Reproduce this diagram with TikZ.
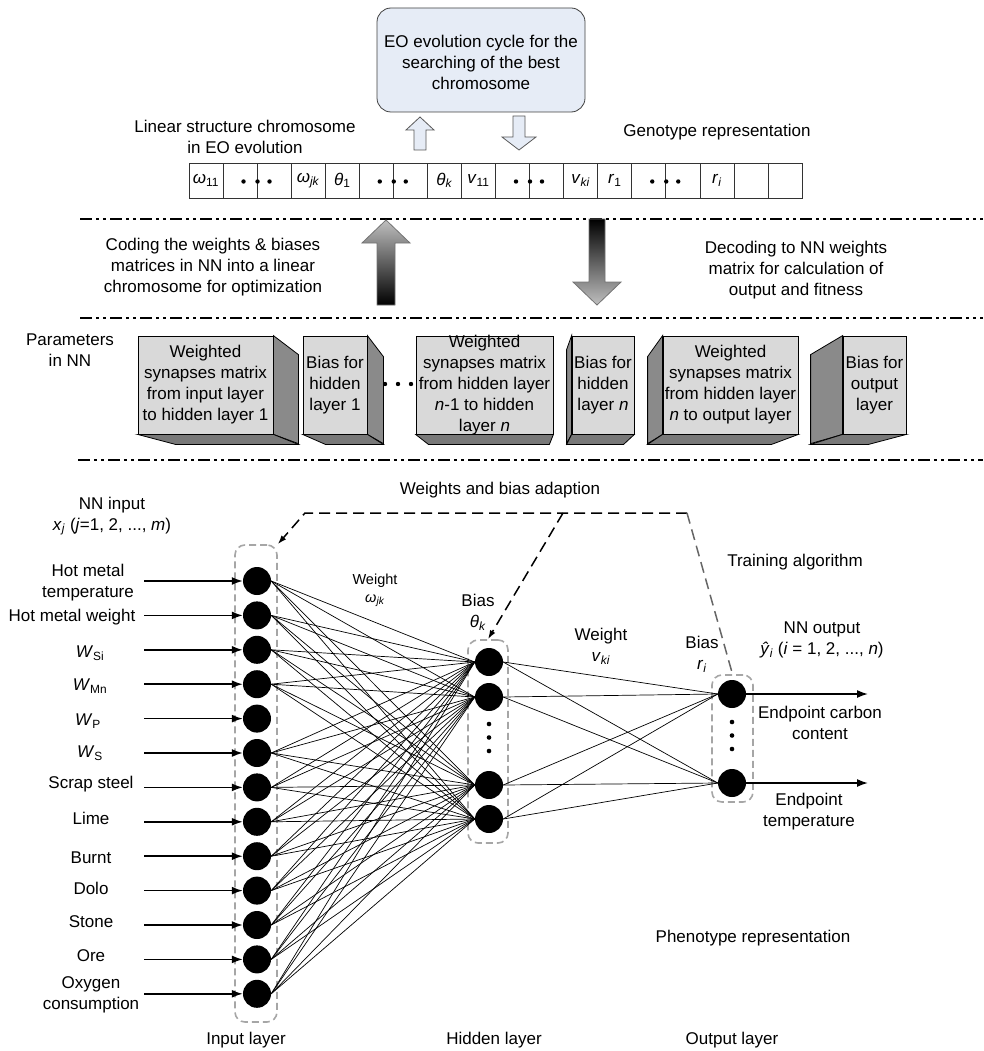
\documentclass[tikz,border=0pt]{standalone}
\usepackage{fontspec}
\setmainfont{Liberation Sans}
\usetikzlibrary{arrows.meta,calc}
\definecolor{eofill}{HTML}{E6ECF6}
\definecolor{frontc}{HTML}{D9D9D9}
\definecolor{sidec}{HTML}{8A8A8A}
\definecolor{botc}{HTML}{787878}
\definecolor{dashgray}{HTML}{A6A6A6}
\begin{document}
\begin{tikzpicture}[x=1pt,y=-1pt,
  txt/.style={font=\fontsize{17}{21}\selectfont, align=center, inner sep=0},
  stxt/.style={font=\fontsize{14.5}{18}\selectfont, align=center, inner sep=0},
  eobox/.style={draw=black!75, fill=eofill, rounded corners=14, line width=0.8, inner sep=0},
  harrow/.style={draw=black!65, fill=eofill, line width=0.8},
  cellbox/.style={draw=black!80, line width=0.8, minimum width=34.06, minimum height=35, inner sep=0},
  sepline/.style={line width=2, dash pattern=on 12pt off 4pt on 3pt off 4pt on 3pt off 4pt},
  pfront/.style={draw=black, fill=frontc, line width=0.8, minimum height=98, inner sep=0},
  pside/.style={draw=black, fill=sidec, line width=0.8},
  pbot/.style={draw=black, fill=botc, line width=0.8},
  neuron/.style={circle, fill=black, minimum size=28, inner sep=0},
  layerbox/.style={draw=dashgray, dashed, dash pattern=on 7pt off 4pt, line width=1.6, rounded corners=10, inner sep=0},
  inarrow/.style={line width=1.6, -{Latex[length=11pt,width=8pt]}},
  conn/.style={line width=0.7},
  adapt/.style={line width=1.5, dash pattern=on 11pt off 6pt},
]
\useasboundingbox (0,0) rectangle (983,1051);

% ---------- top: EO box ----------
\node[eobox, minimum width=208, minimum height=104] (eo) at (481,60) {};
\node[txt] at (481,62) {EO evolution cycle for the\\searching of the best\\chromosome};
\draw[harrow] (414,150) -- (414,130) -- (406,130) -- (420,117) -- (434,130) -- (426,130) -- (426,150) -- cycle;
\draw[harrow] (513,116) -- (525,116) -- (525,137) -- (536,137) -- (519,150) -- (502,137) -- (513,137) -- cycle;

\node[txt] (lsc) at (245,137) {Linear structure chromosome\\in EO evolution};
\node[txt] (geno) at (717,132) {Genotype representation};

% ---------- chromosome cells ----------
\foreach \i in {0,...,17} {
  \node[cellbox] (c\i) at ({189+34.06*\i+17.03},180.5) {};
}
\node[txt] at (c0) {\textit{ω}\textsubscript{11}};
\node[txt] at (c3) {\textit{ω}\textsubscript{\textit{jk}}};
\node[txt] at (c4) {\textit{θ}\textsubscript{1}};
\node[txt] at (c7) {\textit{θ}\textsubscript{\textit{k}}};
\node[txt] at (c8) {\textit{v}\textsubscript{11}};
\node[txt] at (c11) {\textit{v}\textsubscript{\textit{ki}}};
\node[txt] at (c12) {\textit{r}\textsubscript{1}};
\node[txt] at (c15) {\textit{r}\textsubscript{\textit{i}}};
\foreach \c in {1,5,9,13} {
  \fill ($(c\c.east)+(-14,1)$) circle[radius=2.2pt];
  \fill ($(c\c.east)+(0,1)$) circle[radius=2.2pt];
  \fill ($(c\c.east)+(12,1)$) circle[radius=2.2pt];
}

% ---------- separator lines ----------
\coordinate (s1a) at (80,219); \coordinate (s1b) at (983,219);
\coordinate (s2a) at (80,318); \coordinate (s2b) at (983,318);
\coordinate (s3a) at (78,460); \coordinate (s3b) at (983,460);
\draw[sepline] (s1a) -- (s1b);
\draw[sepline] (s2a) -- (s2b);
\draw[sepline] (s3a) -- (s3b);

% ---------- gradient arrows ----------
\shadedraw[top color=black!25, bottom color=black, draw=black!55, line width=0.8]
  (377,305) -- (377,243) -- (362,243) -- (386,220) -- (410,243) -- (395,243) -- (395,305) -- cycle;
\shadedraw[top color=black, bottom color=black!25, draw=black!55, line width=0.8]
  (589,219) -- (605,219) -- (605,282) -- (621,282) -- (597,305) -- (573,282) -- (589,282) -- cycle;
\node[txt] (coding) at (213,267) {Coding the weights \& biases\\matrices in NN into a linear\\chromosome for optimization};
\node[txt] (decoding) at (796,270) {Decoding to NN weights\\matrix for calculation of\\output and fitness};

% ---------- parameter boxes ----------
\node[txt] (pin) at (70,350) {Parameters\\in NN};

\node[pfront, minimum width=135] (p1) at (205.5,385) {};
\filldraw[pside] (p1.north east) -- ++(25,19) -- ++(0,89) -- (p1.south east) -- cycle;
\filldraw[pbot] (p1.south west) -- (p1.south east) -- ++(25,10) -- ++(-123,0) -- cycle;
\node[txt] at (p1) {Weighted\\synapses matrix\\from input layer\\to hidden layer 1};

\node[pfront, minimum width=64] (p2) at (335,385) {};
\filldraw[pside] (p2.north east) -- ++(16,21) -- ++(0,87) -- (p2.south east) -- cycle;
\filldraw[pbot] (p2.south west) -- (p2.south east) -- ++(16,10) -- ++(-58,0) -- cycle;
\node[txt] at (p2) {Bias for\\hidden\\layer 1};

\fill (385,384) circle[radius=2.2pt];
\fill (398,384) circle[radius=2.2pt];
\fill (411,384) circle[radius=2.2pt];

\node[pfront, minimum width=137] (p3) at (484.5,385) {};
\filldraw[pbot] (p3.south west) -- (p3.south east) -- ++(-4,10) -- ++(-121,0) -- cycle;
\node[txt] at (p3) {Weighted\\synapses matrix\\from hidden layer\\\textit{n}-1 to hidden\\layer \textit{n}};

\node[pfront, minimum width=62] (p4) at (603,385) {};
\filldraw[pside] (p4.north west) -- ++(-5,14) -- ++(0,94) -- (p4.south west) -- cycle;
\filldraw[pbot] (p4.south west) -- ++(-5,10) -- ++(57,0) -- (p4.south east) -- cycle;
\node[txt] at (p4) {Bias for\\hidden\\layer \textit{n}};

\node[pfront, minimum width=135] (p5) at (730.5,385) {};
\filldraw[pside] (p5.north west) -- ++(-15,21) -- ++(0,87) -- (p5.south west) -- cycle;
\filldraw[pbot] (p5.south west) -- ++(-15,10) -- ++(124,0) -- (p5.south east) -- cycle;
\node[txt] at (p5) {Weighted\\synapses matrix\\from hidden layer\\\textit{n} to output layer};

\node[pfront, minimum width=63] (p6) at (874.5,385) {};
\filldraw[pside] (p6.north west) -- ++(-32,19) -- ++(0,89) -- (p6.south west) -- cycle;
\filldraw[pbot] (p6.south west) -- ++(-32,10) -- ++(58,0) -- (p6.south east) -- cycle;
\node[txt] at (p6) {Bias for\\output\\layer};

% ---------- network ----------
\node[txt] (wba) at (500,490) {Weights and bias adaption};
\node[txt] (nnin) at (112,516) {NN input\\\textit{x}\textsubscript{\textit{j}} (\textit{j}=1, 2, ..., \textit{m})};
\node[txt] (train) at (795,562) {Training algorithm};

% layer boxes
\node[layerbox, minimum width=42, minimum height=477] (inbox) at (256,783.5) {};
\node[layerbox, minimum width=40, minimum height=203] (hidbox) at (488,741.5) {};
\node[layerbox, minimum width=41, minimum height=127] (outbox) at (732.5,738.5) {};

% input neurons and arrows
\foreach \k in {1,...,13} {
  \node[neuron] (i\k) at (257,{581+34.4*(\k-1)}) {};
  \coordinate (a\k) at (144,{581+34.4*(\k-1)});
  \draw[inarrow] (a\k) -- (i\k.west);
}
% hidden neurons
\node[neuron] (h1) at (489,662) {};
\node[neuron] (h2) at (489,697) {};
\node[neuron] (h3) at (489,785) {};
\node[neuron] (h4) at (489,819) {};
\fill (489,724) circle[radius=2.3pt];
\fill (489,737.5) circle[radius=2.3pt];
\fill (489,751) circle[radius=2.3pt];
% output neurons
\node[neuron] (o1) at (732,694) {};
\node[neuron] (o2) at (732,783) {};
\fill (732,722) circle[radius=2.3pt];
\fill (732,735.5) circle[radius=2.3pt];
\fill (732,749) circle[radius=2.3pt];

% connections
\foreach \k in {1,2,3,4,6,7,8,9,10,11,12,13} {
  \foreach \h in {1,2,3,4} {
    \draw[conn] (i\k.east) -- (h\h.west);
  }
}
\foreach \h in {1,2,3,4} {
  \foreach \o in {1,2} {
    \draw[conn] (h\h.east) -- (o\o.west);
  }
}
\coordinate (e1) at (868,694);
\coordinate (e2) at (868,783);
\draw[inarrow] (o1.east) -- (e1);
\draw[inarrow] (o2.east) -- (e2);

% adaption dashed paths
\coordinate (ad1) at (687,513);
\coordinate (ad2) at (305,513);
\coordinate (ad3) at (563,513);
\draw[adapt, -{Latex[length=9pt,width=6pt]}] (ad1) -- (ad2) -- (inbox.north east);
\draw[adapt, -{Latex[length=9pt,width=6pt]}] (ad3) -- (hidbox.north);
\draw[adapt, draw=black!60] (ad1) -- (outbox.north);

% input labels
\node[txt] (l1) at (88,583) {Hot metal\\temperature};
\node[txt] (l2) at (72,617) {Hot metal weight};
\node[txt] (l3) at (90,653) {\textit{W}\textsubscript{Si}};
\node[txt] (l4) at (90,686) {\textit{W}\textsubscript{Mn}};
\node[txt] (l5) at (88,721) {\textit{W}\textsubscript{P}};
\node[txt] (l6) at (90,753) {\textit{W}\textsubscript{S}};
\node[txt] (l7) at (91,784) {Scrap steel};
\node[txt] (l8) at (91,818) {Lime};
\node[txt] (l9) at (91,858) {Burnt};
\node[txt] (l10) at (91,888) {Dolo};
\node[txt] (l11) at (91,922) {Stone};
\node[txt] (l12) at (91,956) {Ore};
\node[txt] (l13) at (91,995) {Oxygen\\consumption};

% network labels
\node[stxt] (wjk) at (375,590) {Weight\\\textit{ω}\textsubscript{\textit{jk}}};
\node[txt] (bth) at (478,612) {Bias\\\textit{θ}\textsubscript{\textit{k}}};
\node[txt] (wki) at (601,646) {Weight\\\textit{v}\textsubscript{\textit{ki}}};
\node[txt] (bri) at (702,654) {Bias\\\textit{r}\textsubscript{\textit{i}}};
\node[txt] (nnout) at (822,640) {NN output\\\textit{ŷ}\textsubscript{\textit{i}} (\textit{i} = 1, 2, ..., \textit{n})};
\node[txt] (ecc) at (820,723) {Endpoint carbon\\content};
\node[txt] (et) at (809,812) {Endpoint\\temperature};
\node[txt] (pheno) at (753,938) {Phenotype representation};
\node[txt] (inl) at (246,1040) {Input layer};
\node[txt] (hil) at (494,1040) {Hidden layer};
\node[txt] (oul) at (732,1040) {Output layer};
\end{tikzpicture}
\end{document}
